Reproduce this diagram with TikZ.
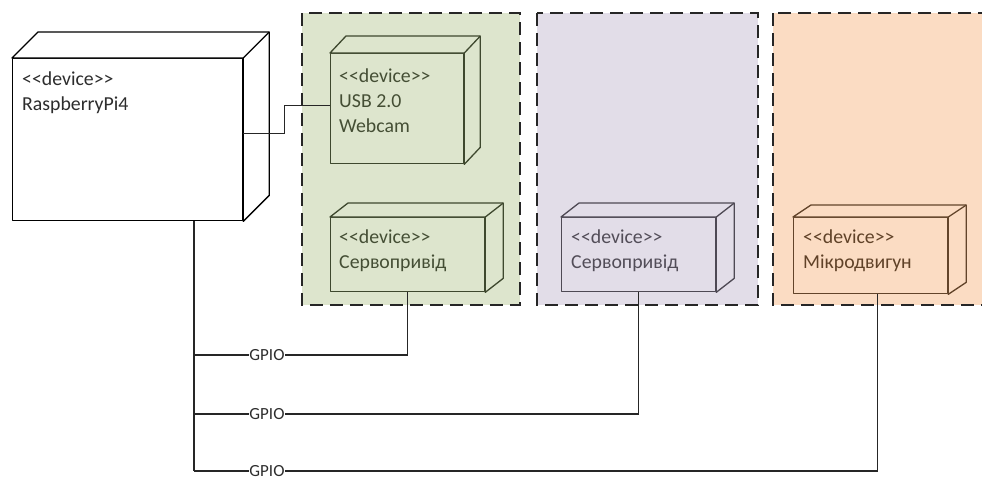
\documentclass[tikz,border=0pt]{standalone}
\usepackage{fontspec}
\newfontfamily\devfont{Carlito}

\definecolor{greenfill}{RGB}{221,229,205}
\definecolor{purplefill}{RGB}{226,221,232}
\definecolor{orangefill}{RGB}{251,220,195}
\definecolor{greenline}{RGB}{62,72,46}
\definecolor{purpleline}{RGB}{78,73,84}
\definecolor{orangeline}{RGB}{98,68,42}
\definecolor{greentext}{RGB}{68,78,52}
\definecolor{purpletext}{RGB}{82,77,88}
\definecolor{orangetext}{RGB}{96,66,40}
\definecolor{darktext}{RGB}{45,45,45}

\tikzset{
  devline/.style={line width=1.3pt, line join=round},
  device/.style={devline, draw, rectangle, inner sep=0pt, anchor=north west},
  devtext/.style={anchor=north west, align=left, inner sep=0pt, font=\devfont\fontsize{19.8}{25}\selectfont},
  frame/.style={line width=1.6pt, dash pattern=on 13pt off 7pt, draw=black!85},
  gpio/.style={fill=white, inner sep=0.5pt, text=darktext, font=\devfont\fontsize{17}{20}\selectfont},
  wire/.style={line width=1.1pt, black!85}
}

% top and right faces of a device box: node, dx, dy, style
\newcommand{\boxdepth}[4]{%
  \draw[#4] (#1.north west) -- ++(#2,-#3) -- ([shift={(#2,-#3)}]#1.north east)
    -- ([shift={(#2,-#3)}]#1.south east) -- (#1.south east) -- (#1.north east) -- cycle;
  \draw[#4] (#1.north east) -- ++(#2,-#3);
}

\begin{document}
\begin{tikzpicture}[x=1pt,y=-1pt]
\clip (0,0) rectangle (982,479);
%frames
\draw[frame, fill=greenfill] (302,13) rectangle (520,305);
\draw[frame, fill=purplefill] (537,13) rectangle (758,305);
\draw[frame, fill=orangefill] (773,13) rectangle (1000,305);

%devices
\node[device, fill=white, minimum width=230pt, minimum height=162pt] (rpi) at (12,58) {};
\boxdepth{rpi}{26}{26}{devline, fill=white}
\node[device, draw=greenline, fill=greenfill, minimum width=133pt, minimum height=110pt] (webcam) at (330,53) {};
\boxdepth{webcam}{16}{17}{devline, draw=greenline, fill=greenfill}
\node[device, draw=greenline, fill=greenfill, minimum width=154pt, minimum height=74pt] (servoA) at (330,217) {};
\boxdepth{servoA}{18}{14}{devline, draw=greenline, fill=greenfill}
\node[device, draw=purpleline, fill=purplefill, minimum width=154pt, minimum height=74pt] (servoB) at (561,217) {};
\boxdepth{servoB}{18}{14}{devline, draw=purpleline, fill=purplefill}
\node[device, draw=orangeline, fill=orangefill, minimum width=154pt, minimum height=76pt] (motor) at (793,217) {};
\boxdepth{motor}{18}{12}{devline, draw=orangeline, fill=orangefill}

%labels
\node[devtext, text=darktext] (rpitext) at (22,72) {<<device>>\\RaspberryPi4};
\node[devtext, text=greentext] (webcamtext) at (339,69) {<<device>>\\USB 2.0\\Webcam};
\node[devtext, text=greentext] (servoAtext) at (339,230) {<<device>>\\Сервопривід};
\node[devtext, text=purpletext] (servoBtext) at (571,230) {<<device>>\\Сервопривід};
\node[devtext, text=orangetext] (motortext) at (803,230) {<<device>>\\Мікродвигун};

%usb link
\draw[wire] ([yshift=6pt]rpi.east) -- ++(41,0) |- ([yshift=3pt]webcam.west);

%gpio links
\coordinate (trunk) at ([xshift=182pt]rpi.south west);
\coordinate (busA) at (194,355);
\coordinate (busB) at (194,414);
\coordinate (busC) at (194,471);
\draw[wire] (trunk) -- (busC);
\node[gpio] (gpioA) at (267,355) {GPIO};
\node[gpio] (gpioB) at (267,414) {GPIO};
\node[gpio] (gpioC) at (267,471) {GPIO};
\draw[wire] (busA) -- (gpioA) -| (servoA.south);
\draw[wire] (busB) -- (gpioB) -| (servoB.south);
\draw[wire] (busC) -- (gpioC) -| ([xshift=7pt]motor.south);
\end{tikzpicture}
\end{document}
